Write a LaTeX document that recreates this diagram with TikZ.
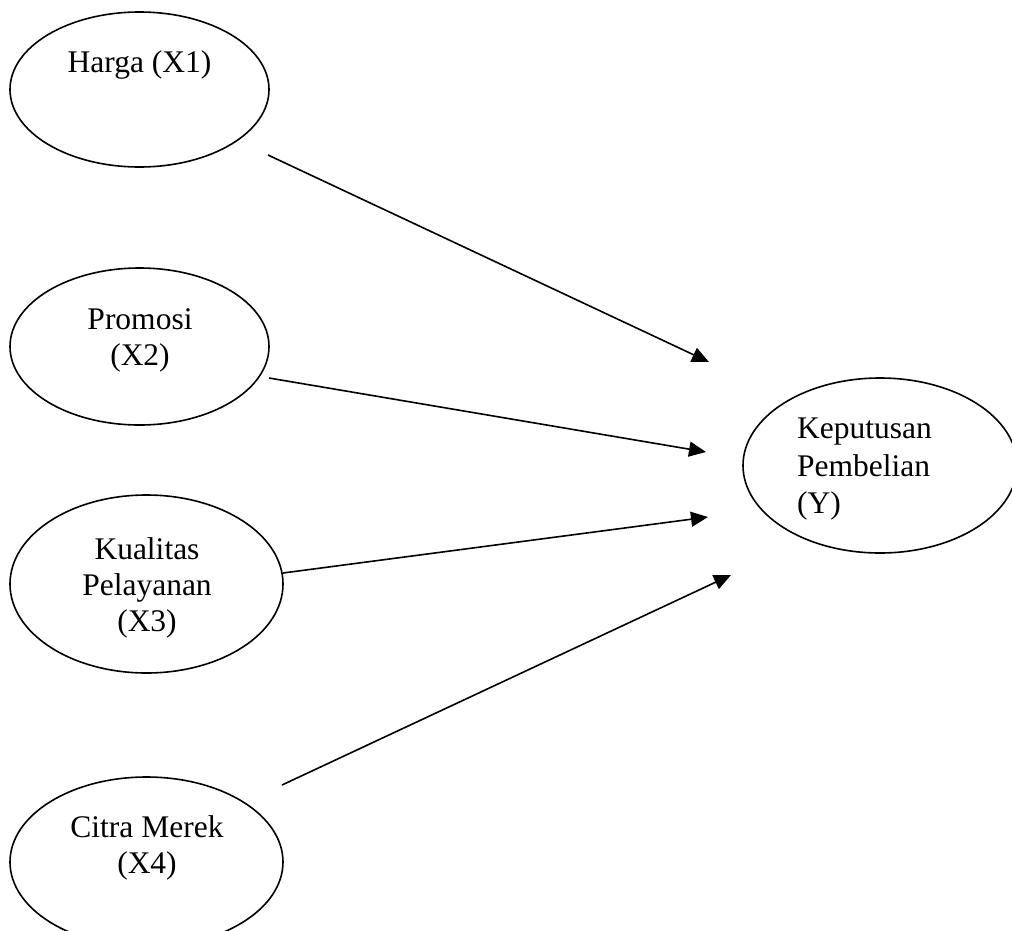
\documentclass[tikz,border=0pt]{standalone}
\usepackage{fontspec}
\setmainfont{Liberation Serif}
\usetikzlibrary{shapes.geometric,arrows.meta}
\begin{document}
\begin{tikzpicture}[x=1pt,y=-1pt,
  var/.style={draw, ellipse, line width=1.6pt, inner sep=0pt},
  lbl/.style={font=\fontsize{31.5}{36}\selectfont, align=center, inner sep=0pt},
  link/.style={line width=1.6pt, -{Triangle[length=17pt,width=15pt]}}]
\clip (0,0) rectangle (1012,930);
% ellipses
\node[var, minimum width=259pt, minimum height=155pt] (x1) at (139.5,89.5) {};
\node[var, minimum width=259pt, minimum height=157pt] (x2) at (139.5,346.5) {};
\node[var, minimum width=273pt, minimum height=178pt] (x3) at (146.5,584) {};
\node[var, minimum width=273pt, minimum height=170pt] (x4) at (146.5,862) {};
\node[var, minimum width=274pt, minimum height=175pt] (y) at (880,465.5) {};
% labels
\node[lbl] (t1) at (139.5,65) {Harga (X1)};
\node[lbl] (t2) at (140,340) {Promosi\\(X2)};
\node[lbl] (t3) at (147,588) {Kualitas\\Pelayanan\\(X3)};
\node[lbl] (t4) at (147,847.5) {Citra Merek\\(X4)};
\node[lbl, align=left, anchor=west, font=\fontsize{31.5}{37.5}\selectfont] (ty) at (797,469.5) {Keputusan\\Pembelian\\(Y)};
% connector ends
\coordinate (s1) at (268,155);
\coordinate (e1) at (709,362);
\coordinate (s2) at (269,378);
\coordinate (e2) at (706,452);
\coordinate (s3) at (283,573);
\coordinate (e3) at (708,517);
\coordinate (s4) at (282,785);
\coordinate (e4) at (731,575);
\draw[link] (s1) -- (e1);
\draw[link] (s2) -- (e2);
\draw[link] (s3) -- (e3);
\draw[link] (s4) -- (e4);
\end{tikzpicture}
\end{document}
